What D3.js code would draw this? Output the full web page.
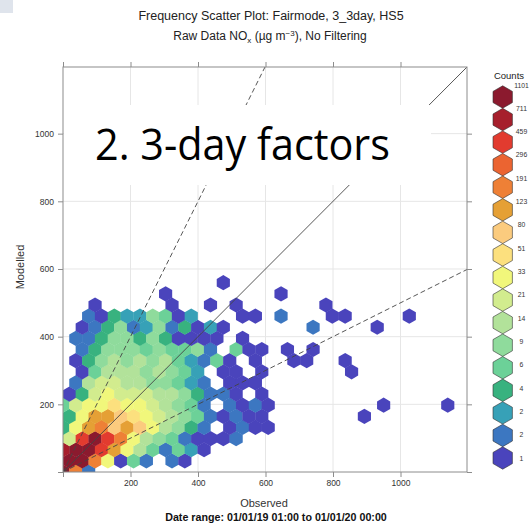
<!DOCTYPE html>
<html>
<head>
<meta charset="utf-8">
<script src="https://cdn.jsdelivr.net/npm/d3@7"></script>
<style>
  body { margin: 0; background: #fff; }
  text { font-family: "Liberation Sans", Arial, sans-serif; }
</style>
</head>
<body>
<div id="my_dataviz"></div>
<script>

// key breaks, top (highest count) to bottom
var countLabels = ["1101", "711", "459", "296", "191", "123", "80", "51", "33", "21", "14", "9", "6", "4", "2", "2", "1"]
var countColours = ["#8b1a2e", "#a61f2c", "#e23b2f", "#eb6431", "#ee8036", "#e5a035", "#fbcb7e", "#fce07e",
                    "#f1f77b", "#d2ec8e", "#b2e29a", "#8fdb9c", "#6cd198", "#38b27f", "#37a1b7", "#3c77c1", "#4a44bc"]
var levelCodes = "ABCDEFGHIJKLMNOPQ"

// hexbin cells: one string per row of bins (bottom row first), one letter per bin, "." = empty
var hexRows = [
  "AEP",
  "AAEIQMP.PQ",
  "BAACFIKMPMOQ",
  "JCACEIKLMPQQQP",
  "NIFEGFGIKLNP.QPQQ",
  "NIFFGHIJKLMPQPQQ.......Q",
  "MJIIHIIJKLMP.PQPQ........Q....Q",
  "QNJIJJJKKLNPPQ.Q",
  ".PKJJKKLLMOP.QQQ",
  ".QMKKKLKLMO.QQ.Q......Q",
  ".QNLKLKLKMOPMQ.Q..QQ..Q",
  ".PNLLLMLMMLP.MQQ.Q.Q",
  ".PPNLLNLNQQQQ.Q",
  ".QPNLPOLPNQOQ......P....Q",
  "..PQNOOLMQO...QQ.P...QQ....Q",
  "..Q.....Q..Q.Q......Q",
  "........Q........Q",
  "............Q"
]
var binWidth = 38          // observed units per hexagon
var axisMax = 1197
var tickValues = [0, 200, 400, 600, 800, 1000]
var ratioLines = [{slope: 1, dash: null}, {slope: 2, dash: "5,3"}, {slope: 0.5, dash: "5,3"}]

var margin = {top: 67, right: 64, bottom: 58, left: 63},
    width = 531 - margin.left - margin.right,
    height = 530 - margin.top - margin.bottom

var root = d3.select("#my_dataviz")
  .append("svg")
    .attr("width", 531)
    .attr("height", 530)

// slide leftover in the corner
root.append("rect")
    .attr("x", 0).attr("y", 0).attr("width", 13).attr("height", 13)
    .attr("fill", "#dfe4ec")

var svg = root.append("g")
    .attr("transform", "translate(" + margin.left + "," + margin.top + ")")

var x = d3.scaleLinear().domain([0, axisMax]).range([0, width])
var y = d3.scaleLinear().domain([0, axisMax]).range([height, 0])

// grid
svg.append("g").selectAll("line")
  .data(tickValues.slice(1))
  .enter().append("line")
    .attr("x1", function(d){ return x(d) }).attr("x2", function(d){ return x(d) })
    .attr("y1", 0).attr("y2", height)
    .attr("stroke", "#e6e6e6")
svg.append("g").selectAll("line")
  .data(tickValues.slice(1))
  .enter().append("line")
    .attr("y1", function(d){ return y(d) }).attr("y2", function(d){ return y(d) })
    .attr("x1", 0).attr("x2", width)
    .attr("stroke", "#e6e6e6")

svg.append("clipPath").attr("id", "panel")
  .append("rect").attr("width", width).attr("height", height)

// turn the row strings into cells
var rowStep = binWidth * Math.sqrt(3) / 2
var cells = []
hexRows.forEach(function(row, j) {
  row.split("").forEach(function(c, k) {
    if (c == ".") return
    cells.push({obs: (k + (j % 2) * 0.5) * binWidth, mod: j * rowStep, level: levelCodes.indexOf(c)})
  })
})

function hexPath(r) {
  var pts = d3.range(6).map(function(i) {
    var a = (60 * i - 90) * Math.PI / 180
    return [r * Math.cos(a), r * Math.sin(a)]
  })
  return "M" + pts.join("L") + "Z"
}
var r = (x(binWidth) - x(0)) / Math.sqrt(3)

svg.append("g")
    .attr("clip-path", "url(#panel)")
  .selectAll("path")
  .data(cells)
  .enter().append("path")
    .attr("d", hexPath(r + 0.2))
    .attr("transform", function(d){ return "translate(" + x(d.obs) + "," + y(d.mod) + ")" })
    .attr("fill", function(d){ return countColours[d.level] })

// 1:1, 2:1 and 1:2 lines
svg.append("g")
    .attr("clip-path", "url(#panel)")
  .selectAll("line")
  .data(ratioLines)
  .enter().append("line")
    .attr("x1", x(0)).attr("y1", y(0))
    .attr("x2", function(d){ return x(Math.min(axisMax, axisMax / d.slope)) })
    .attr("y2", function(d){ return y(Math.min(axisMax, axisMax * d.slope)) })
    .attr("stroke", "#444")
    .attr("stroke-width", 0.9)
    .attr("stroke-dasharray", function(d){ return d.dash })

// axes, ticks on all four sides
function styleAxis(g) {
  g.select(".domain").remove()
  g.selectAll(".tick line").attr("stroke", "#8c8c8c")
  g.selectAll(".tick text").attr("fill", "#333").style("font-size", "8.5px")
}
var fmt = function(d){ return d == 0 ? "" : d }
svg.append("g").attr("transform", "translate(0," + height + ")")
    .call(d3.axisBottom(x).tickValues(tickValues).tickFormat(fmt).tickSize(5).tickPadding(3))
    .call(styleAxis)
svg.append("g")
    .call(d3.axisLeft(y).tickValues(tickValues).tickFormat(fmt).tickSize(5).tickPadding(4))
    .call(styleAxis)
svg.append("g")
    .call(d3.axisTop(x).tickValues(tickValues).tickFormat("").tickSize(5))
    .call(styleAxis)
svg.append("g").attr("transform", "translate(" + width + ",0)")
    .call(d3.axisRight(y).tickValues(tickValues).tickFormat("").tickSize(5))
    .call(styleAxis)

svg.append("rect")
    .attr("width", width).attr("height", height)
    .attr("fill", "none").attr("stroke", "#8c8c8c")

// overlay label from the slide
svg.append("rect")
    .attr("x", 1).attr("y", 38).attr("width", 367).attr("height", 80)
    .attr("fill", "#fff")
svg.append("text")
    .attr("x", 32).attr("y", 93)
    .attr("textLength", 295).attr("lengthAdjust", "spacingAndGlyphs")
    .style("font-family", "'Open Sans', sans-serif")
    .style("font-size", "44px")
    .attr("fill", "#000")
    .text("2. 3-day factors")

// titles
root.append("text")
    .attr("x", 271).attr("y", 19.5).attr("text-anchor", "middle")
    .style("font-size", "12.5px").attr("fill", "#222")
    .text("Frequency Scatter Plot: Fairmode, 3_3day, HS5")
var t2 = root.append("text")
    .attr("x", 270).attr("y", 39.5).attr("text-anchor", "middle")
    .style("font-size", "12px").attr("fill", "#222")
t2.append("tspan").text("Raw Data NO")
t2.append("tspan").attr("dy", 3).style("font-size", "8px").text("x")
t2.append("tspan").attr("dy", -3).text(" (\u00b5g m")
t2.append("tspan").attr("dy", -4).style("font-size", "8px").text("\u22123")
t2.append("tspan").attr("dy", 4).text("), No Filtering")

root.append("text")
    .attr("x", 264).attr("y", 507).attr("text-anchor", "middle")
    .style("font-size", "11px").attr("fill", "#333")
    .text("Observed")
root.append("text")
    .attr("x", 276).attr("y", 521).attr("text-anchor", "middle")
    .style("font-size", "10.7px").style("font-weight", "bold").attr("fill", "#111")
    .text("Date range: 01/01/19 01:00 to 01/01/20 00:00")
root.append("text")
    .attr("transform", "translate(24,267) rotate(-90)").attr("text-anchor", "middle")
    .style("font-size", "11px").attr("fill", "#333")
    .text("Modelled")

// key
var key = root.append("g")
key.append("text")
    .attr("x", 509).attr("y", 79).attr("text-anchor", "middle")
    .style("font-size", "9.5px").attr("fill", "#222")
    .text("Counts")
var keyY = d3.scalePoint().domain(d3.range(countLabels.length)).range([97, 458])
var labY = d3.scalePoint().domain(d3.range(countLabels.length)).range([85, 458])
key.selectAll("path")
  .data(countColours)
  .enter().append("path")
    .attr("d", hexPath(11.2))
    .attr("transform", function(d, i){ return "translate(502.7," + keyY(i) + ")" })
    .attr("fill", function(d){ return d })
    .attr("stroke", "#333").attr("stroke-width", 0.6)
key.selectAll(".lab")
  .data(countLabels)
  .enter().append("text")
    .attr("class", "lab")
    .attr("x", 521.5).attr("y", function(d, i){ return labY(i) + 2.5 })
    .attr("text-anchor", "middle")
    .style("font-size", "6.8px").attr("fill", "#333")
    .text(function(d){ return d })

</script>
</body>
</html>
